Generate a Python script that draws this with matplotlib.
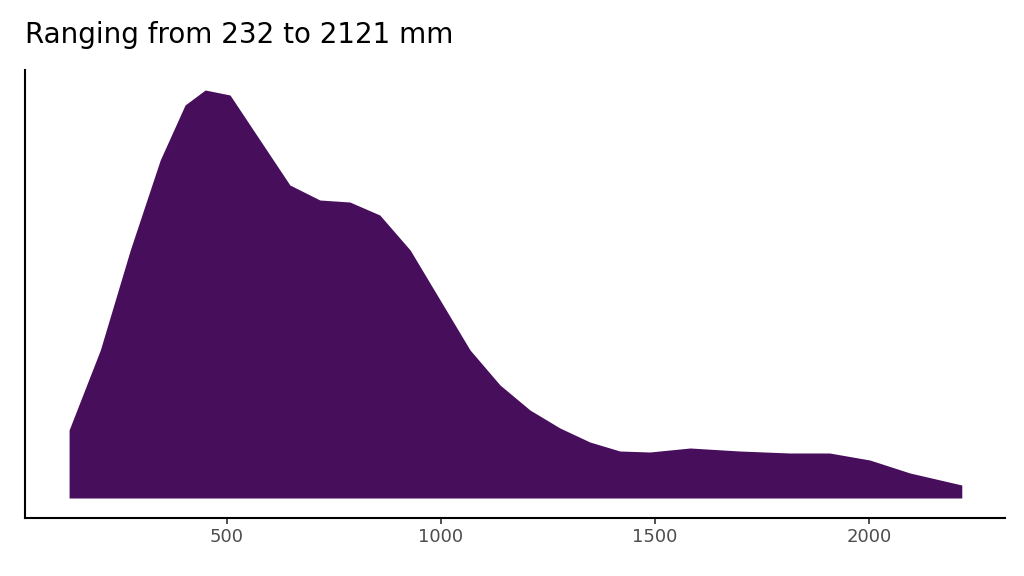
import matplotlib
matplotlib.use("Agg")
import matplotlib.pyplot as plt

rain_mm = [131, 204, 274, 344, 402, 449, 507, 577, 647, 717, 787, 857, 928, 998,
           1068, 1138, 1208, 1278, 1348, 1418, 1488, 1582, 1698, 1815, 1908, 2002, 2096, 2217]
density = [68, 148, 248, 338, 393, 408, 403, 358, 313, 298, 296, 283, 248, 198,
           148, 113, 88, 70, 56, 47, 46, 50, 47, 45, 45, 38, 25, 13]
xticks = [500, 1000, 1500, 2000]

fig = plt.figure(figsize=(10.24, 5.76), dpi=100)
ax = fig.add_axes([25/1024, 1-518/576, 980/1024, 448/576])
ax.fill_between(rain_mm, 0, density, color="#470E5C", lw=0)
ax.set_xlim(28, 2318)
ax.set_ylim(-20, 428)
ax.set_xticks(xticks)
ax.set_xticklabels([str(t) for t in xticks], color="#4d4d4d", fontsize=13)
ax.set_yticks([])
for s in ["top", "right"]:
    ax.spines[s].set_visible(False)
for s in ["left", "bottom"]:
    ax.spines[s].set_linewidth(1.5)
ax.tick_params(axis="x", length=4, width=1.2, color="#333333")
fig.text(25/1024, 1-35/576, "Ranging from 232 to 2121 mm", fontsize=20, va="center", ha="left")
fig.savefig("out.png")
